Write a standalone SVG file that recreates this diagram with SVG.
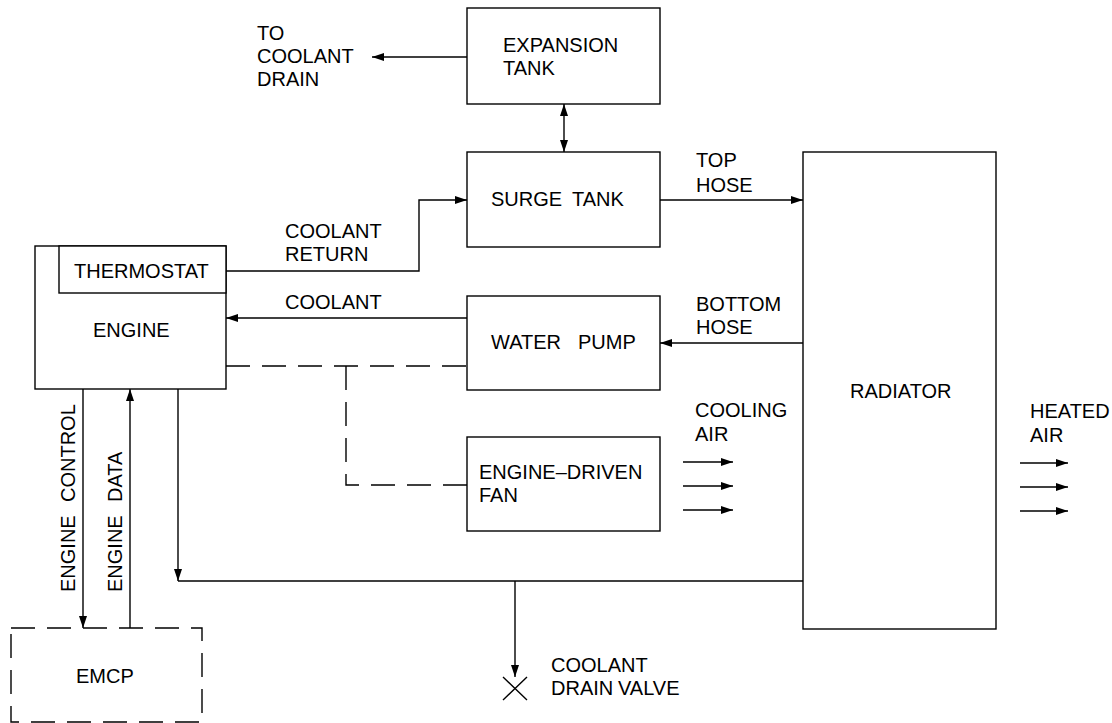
<svg xmlns="http://www.w3.org/2000/svg" width="1112" height="723" viewBox="0 0 1112 723">
<defs>
<marker id="ah" markerUnits="userSpaceOnUse" markerWidth="13" markerHeight="9" refX="12" refY="4" orient="auto-start-reverse">
<path d="M0,0 L12,4 L0,8 z" fill="#000"/>
</marker>
<style>
text{font-family:"Liberation Sans",Arial,sans-serif;font-size:20px;fill:#000}
.box{fill:#fff;stroke:#000;stroke-width:1.4}
.dbox{fill:none;stroke:#000;stroke-width:1.4;stroke-dasharray:24 12}
.ln{fill:none;stroke:#000;stroke-width:1.4}
.dash{fill:none;stroke:#000;stroke-width:1.4;stroke-dasharray:24 12}
.arr{marker-end:url(#ah)}
</style>
</defs>
<rect width="1112" height="723" fill="#fff"/>

<g id="connectors">
<path class="ln arr" d="M467,57 H372"/>
<path class="ln" d="M564,104 V152" marker-start="url(#ah)" marker-end="url(#ah)"/>
<path class="ln arr" d="M226,271 H419 V200 H467"/>
<path class="ln arr" d="M660,200 H803"/>
<path class="ln arr" d="M803,343 H660"/>
<path class="ln arr" d="M467,318 H226"/>
<path class="dash" d="M226,366 H467"/>
<path class="dash" d="M346,366 V485 H467"/>
<path class="ln arr" d="M683,462 H733"/>
<path class="ln arr" d="M683,486 H733"/>
<path class="ln arr" d="M683,510 H733"/>
<path class="ln arr" d="M1020,463 H1068"/>
<path class="ln arr" d="M1020,487 H1068"/>
<path class="ln arr" d="M1020,511 H1068"/>
<path class="ln arr" d="M83,389 V628"/>
<path class="ln arr" d="M130,628 V389"/>
<path class="ln arr" d="M178,389 V581"/>
<path class="ln" d="M178,581 H803"/>
<path class="ln arr" d="M515,581 V677"/>
<path class="ln" d="M503,677 L527,700 M527,677 L503,700"/>
</g>

<g id="label-to-coolant-drain">
<text x="257" y="40">TO</text>
<text x="257" y="63">COOLANT</text>
<text x="257" y="86">DRAIN</text>
</g>

<g id="expansion-tank">
<rect class="box" x="467" y="8" width="193" height="96"/>
<text x="503" y="52">EXPANSION</text>
<text x="503" y="75">TANK</text>
</g>

<g id="surge-tank">
<rect class="box" x="467" y="152" width="193" height="95"/>
<text y="206"><tspan x="491">SURGE</tspan><tspan x="572">TANK</tspan></text>
</g>

<g id="water-pump">
<rect class="box" x="467" y="296" width="193" height="94"/>
<text y="349"><tspan x="491">WATER</tspan><tspan x="578">PUMP</tspan></text>
</g>

<g id="engine-driven-fan">
<rect class="box" x="467" y="437" width="193" height="94"/>
<text x="479" y="479">ENGINE–DRIVEN</text>
<text x="479" y="502">FAN</text>
</g>

<g id="radiator">
<rect class="box" x="803" y="152" width="193" height="477"/>
<text x="850" y="398">RADIATOR</text>
</g>

<g id="engine">
<rect class="box" x="35" y="246" width="191" height="143"/>
<text x="93" y="337">ENGINE</text>
</g>

<g id="thermostat">
<rect class="box" x="59" y="246" width="167" height="47"/>
<text x="74" y="278">THERMOSTAT</text>
</g>

<g id="emcp">
<rect class="dbox" x="11" y="628" width="191" height="94"/>
<text x="76" y="683">EMCP</text>
</g>

<g id="coolant-drain-valve">
<text x="551" y="672">COOLANT</text>
<text y="695"><tspan x="551">DRAIN</tspan><tspan x="618">VALVE</tspan></text>
</g>

<g id="labels">
<text x="285" y="238">COOLANT</text>
<text x="285" y="261">RETURN</text>
<text x="285" y="309">COOLANT</text>
<text x="696" y="167">TOP</text>
<text x="696" y="192">HOSE</text>
<text x="696" y="311">BOTTOM</text>
<text x="696" y="334">HOSE</text>
<text x="695" y="417">COOLING</text>
<text x="695" y="441">AIR</text>
<text x="1030" y="418">HEATED</text>
<text x="1030" y="442">AIR</text>
<text transform="translate(75,592) rotate(-90)"><tspan x="0" y="0">ENGINE</tspan><tspan x="90" y="0">CONTROL</tspan></text>
<text transform="translate(122,592) rotate(-90)"><tspan x="0" y="0">ENGINE</tspan><tspan x="90" y="0">DATA</tspan></text>
</g>
</svg>
